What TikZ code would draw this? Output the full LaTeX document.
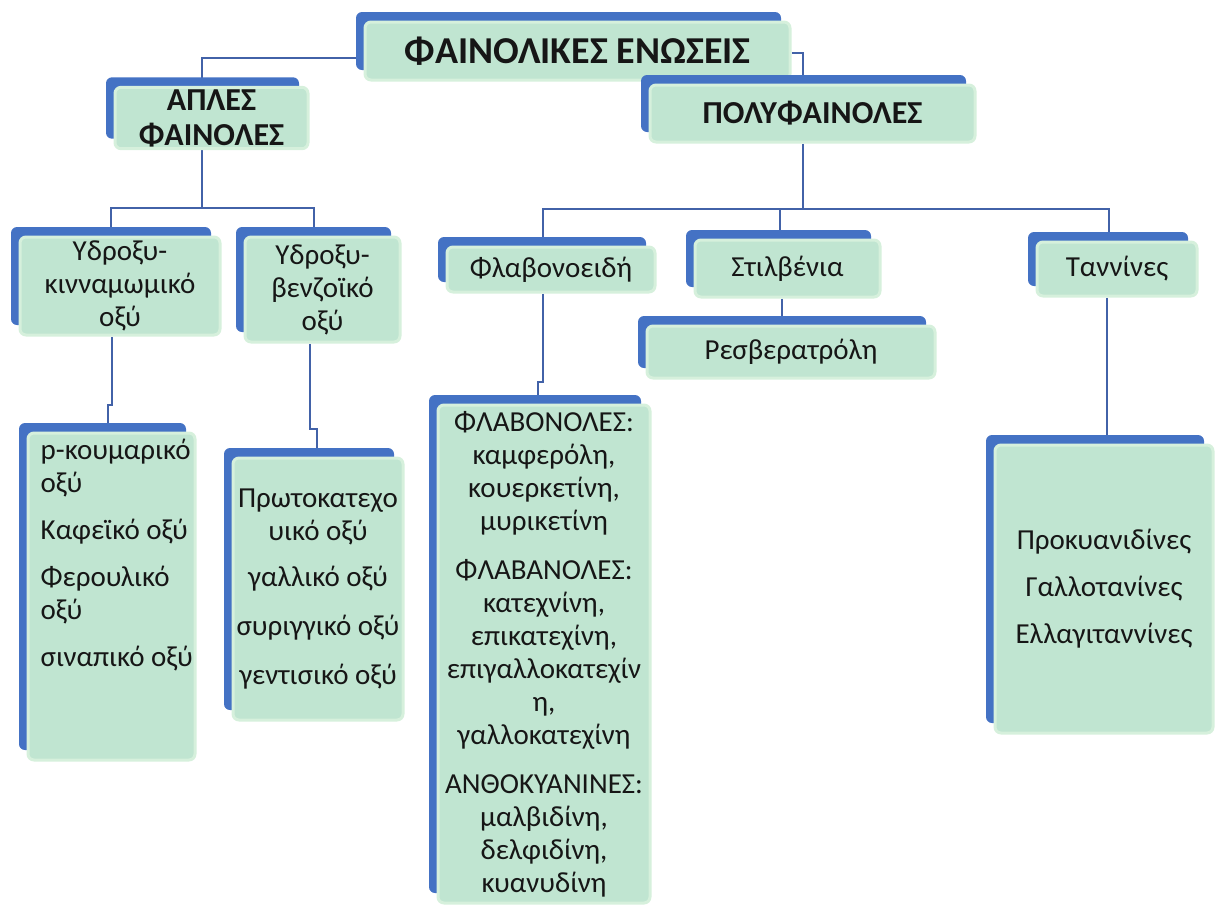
\documentclass[tikz,border=0pt]{standalone}
\usepackage{fontspec}
\setmainfont{Carlito}
\usetikzlibrary{shadows, backgrounds, positioning}
\definecolor{boxblue}{RGB}{68,114,196}
\definecolor{boxmint}{RGB}{192,229,209}
\definecolor{boxedge}{RGB}{214,240,220}
\definecolor{linkblue}{RGB}{66,98,168}
\definecolor{txtdark}{RGB}{22,22,22}
\tikzset{
  box/.style={rectangle, rounded corners=6pt, fill=boxmint, draw=boxedge,
    line width=3pt, inner sep=2pt, align=center, text=txtdark,
    general shadow={fill=boxblue, shadow xshift=-9pt, shadow yshift=10pt}},
  titlefont/.style={font=\fontsize{38}{42}\selectfont\bfseries},
  headfont/.style={font=\fontsize{32}{35}\selectfont\bfseries},
  itemfont/.style={font=\fontsize{29}{33}\selectfont},
  link/.style={linkblue, line width=2pt}
}
\begin{document}
\begin{tikzpicture}[x=1pt, y=-1pt]
  \useasboundingbox (0,0) rectangle (1217,906);

  % Top levels
  \node[box, titlefont, minimum width=425pt, minimum height=58pt] (top) at (577.5,51) {ΦΑΙΝΟΛΙΚΕΣ ΕΝΩΣΕΙΣ};
  \node[box, headfont, minimum width=193pt, minimum height=60pt] (aples) at (211.5,118) {ΑΠΛΕΣ\\ΦΑΙΝΟΛΕΣ};
  \node[box, headfont, minimum width=325pt, minimum height=57pt] (poly) at (812.5,113.5) {ΠΟΛΥΦΑΙΝΟΛΕΣ};

  % Groups
  \node[box, itemfont, minimum width=200pt, minimum height=98pt] (hcin) at (120,286) {Υδροξυ-\\κινναμωμικό\\οξύ};
  \node[box, itemfont, minimum width=155pt, minimum height=105pt] (hben) at (322.5,289.5) {Υδροξυ-\\βενζοϊκό\\οξύ};
  \node[box, itemfont, minimum width=208pt, minimum height=45pt] (flav) at (551,269.5) {Φλαβονοειδή};
  \node[box, itemfont, minimum width=185pt, minimum height=57pt] (stil) at (787.5,268.5) {Στιλβένια};
  \node[box, itemfont, minimum width=160pt, minimum height=54pt] (tann) at (1117,269) {Ταννίνες};
  \node[box, itemfont, minimum width=288pt, minimum height=52pt] (resv) at (791,352) {Ρεσβερατρόλη};

  % Members
  \node[box, minimum width=167pt, minimum height=327pt] (pkoum) at (111.5,596.5) {};
  \node[itemfont, align=left, anchor=north west, inner sep=0pt, text=txtdark] (pkoumtxt)
    at ([xshift=14pt, yshift=-7pt]pkoum.north west)
    {p-κουμαρικό\\οξύ\\[14pt]Καφεϊκό οξύ\\[14pt]Φερουλικό\\οξύ\\[14pt]σιναπικό οξύ};
  \node[box, itemfont, minimum width=170pt, minimum height=262pt] (proto) at (318,589)
    {Πρωτοκατεχο\\υικό οξύ\\[13pt]γαλλικό οξύ\\[16pt]συριγγικό οξύ\\[16pt]γεντισικό οξύ};
  \node[box, itemfont, minimum width=212pt, minimum height=498pt] (flavon) at (544,654)
    {ΦΛΑΒΟΝΟΛΕΣ:\\καμφερόλη,\\κουερκετίνη,\\μυρικετίνη\\[16pt]
     ΦΛΑΒΑΝΟΛΕΣ:\\κατεχνίνη,\\επικατεχίνη,\\επιγαλλοκατεχίν\\η,\\γαλλοκατεχίνη\\[16pt]
     ΑΝΘΟΚΥΑΝΙΝΕΣ:\\μαλβιδίνη,\\δελφιδίνη,\\κυανυδίνη};
  \node[box, itemfont, minimum width=218pt, minimum height=288pt] (tlow) at (1104,589)
    {Προκυανιδίνες\\[14pt]Γαλλοτανίνες\\[14pt]Ελλαγιταννίνες};

  % Connectors
  \begin{scope}[on background layer]
    \coordinate (aplesfork) at ([xshift=-10pt, yshift=-58pt]aples.south);
    \coordinate (polyfork) at ([xshift=-10pt, yshift=-65pt]poly.south);
    \draw[link] ([yshift=-7pt]top.west) -| ([xshift=-10pt]aples.north);
    \draw[link] ([yshift=-2pt]top.east) -| ([xshift=-10pt]poly.north);
    \draw[link] ([xshift=-10pt]aples.south) -- (aplesfork);
    \draw[link] ([xshift=-9pt]hcin.north) |- (aplesfork) -| ([xshift=-9pt]hben.north);
    \draw[link] ([xshift=-10pt]poly.south) -- (polyfork);
    \draw[link] (polyfork) -| ([xshift=-8pt]flav.north);
    \draw[link] (polyfork) -| ([xshift=-8pt]tann.north);
    \draw[link] ([xshift=-8pt]stil.north) |- (polyfork);
    \draw[link] ([xshift=-8pt]hcin.south) -- ++(0,68) -| ([xshift=-3.5pt]pkoum.north);
    \draw[link] ([xshift=-12.5pt]hben.south) -- ++(0,85) -| ([xshift=-1pt]proto.north);
    \draw[link] ([xshift=-8pt]flav.south) -- ++(0,88) -| ([xshift=-6pt]flavon.north);
    \draw[link] ([xshift=-5.5pt]stil.south) -- ([xshift=-9pt]resv.north);
    \draw[link] ([xshift=-10pt]tann.south) -- ([xshift=3pt]tlow.north);
  \end{scope}
\end{tikzpicture}
\end{document}
